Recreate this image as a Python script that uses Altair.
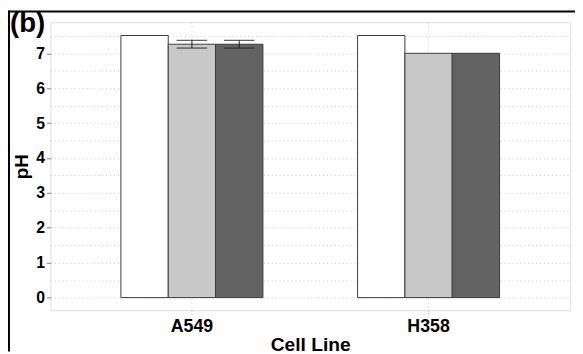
import altair as alt
import pandas as pd

cell_lines = ["A549", "A549", "A549", "H358", "H358", "H358"]
conditions = ["Condition 1", "Condition 2", "Condition 3",
              "Condition 1", "Condition 2", "Condition 3"]
cond_order = ["Condition 1", "Condition 2", "Condition 3"]
ph_values = [7.51, 7.26, 7.26, 7.51, 7.00, 7.00]
ph_errors = [0.0, 0.11, 0.11, 0.0, 0.0, 0.0]
bar_colors = ["#ffffff", "#c8c8c8", "#636363"]
y_ticks = [0, 0.5, 1, 1.5, 2, 2.5, 3, 3.5, 4, 4.5, 5, 5.5, 6, 6.5, 7, 7.5]

df = pd.DataFrame({"cell": cell_lines, "cond": conditions, "ph": ph_values, "err": ph_errors})
df["lo"] = df["ph"] - df["err"]
df["hi"] = df["ph"] + df["err"]
err_df = df[df["err"] > 0]

FONT = "Liberation Sans"
W, H = 527, 292

x_axis = alt.Axis(
    labelAngle=0, labelFont=FONT, labelFontSize=18, labelFontWeight="bold",
    labelColor="black", labelPadding=4,
    titleFont=FONT, titleFontSize=19.5, titleFontWeight="bold", titleColor="black",
    titleY=41, titleBaseline="alphabetic",
    grid=True, gridDash=[1, 3], gridColor="#c4c4c4", gridWidth=1,
    domain=False, tickColor="#b0b0b0", tickSize=4, tickDash=[1, 2],
)
x_scale = alt.Scale(paddingInner=0.4, paddingOuter=0.298)
xo_enc = alt.XOffset("cond:N", sort=cond_order, scale=alt.Scale(paddingInner=0, paddingOuter=0))
y_scale = alt.Scale(domain=[-0.36, 7.89], nice=False, zero=False)
y_axis = alt.Axis(
    values=y_ticks,
    labelExpr="datum.value % 1 === 0 ? format(datum.value, 'd') : ''",
    labelFont=FONT, labelFontSize=16, labelFontWeight="bold", labelColor="black",
    labelPadding=2,
    titleFont=FONT, titleFontSize=19, titleFontWeight="bold", titleColor="black",
    titlePadding=4,
    grid=True, gridDash=[1, 3], gridColor="#c4c4c4", gridWidth=1,
    domain=False, tickSize=4,
    tickColor={"condition": {"test": "datum.value % 1 !== 0", "value": "transparent"},
               "value": "#808080"},
)


def xe():
    return alt.X("cell:N", sort=["A549", "H358"], title="Cell Line", scale=x_scale, axis=x_axis)


def ye(field):
    return alt.Y(field, title="pH", scale=y_scale, axis=y_axis)


color_enc = alt.Color("cond:N", scale=alt.Scale(domain=cond_order, range=bar_colors), legend=None)

bars = alt.Chart(df).mark_bar(stroke="#3a3a3a", strokeWidth=1).encode(
    x=xe(), xOffset=xo_enc, y=ye("ph:Q"), y2=alt.datum(0), color=color_enc
)

err_rule = alt.Chart(err_df).mark_rule(color="#222222", strokeWidth=1).encode(
    x=xe(), xOffset=xo_enc, y=ye("lo:Q"), y2="hi:Q",
)
cap_lo = alt.Chart(err_df).mark_tick(color="#222222", size=31, thickness=1.3).encode(
    x=xe(), xOffset=xo_enc, y=ye("lo:Q")
)
cap_hi = alt.Chart(err_df).mark_tick(color="#222222", size=31, thickness=1.3).encode(
    x=xe(), xOffset=xo_enc, y=ye("hi:Q")
)

one = pd.DataFrame({"k": [0]})
top_line = alt.Chart(one).mark_rule(color="black", strokeWidth=2).encode(
    x=alt.value(-43), x2=alt.value(W + 5), y=alt.value(-11)
)
left_line = alt.Chart(one).mark_rule(color="black", strokeWidth=2).encode(
    x=alt.value(-42), y=alt.value(-12), y2=alt.value(H + 42)
)
panel_label = alt.Chart(one).mark_text(
    text="(b)", font=FONT, fontSize=28, fontWeight="bold", align="left",
    baseline="alphabetic", color="black"
).encode(x=alt.value(-41), y=alt.value(9.5))

chart = alt.layer(bars, err_rule, cap_lo, cap_hi, top_line, left_line, panel_label).properties(
    width=W, height=H,
    autosize=alt.AutoSizeParams(type="none"),
    padding={"left": 43, "top": 12, "right": 5, "bottom": 42},
).configure_view(stroke="#9a9a9a", strokeWidth=1.2).configure(background="white")

chart.save("out.html", embed_options={"renderer": "svg", "actions": False})
